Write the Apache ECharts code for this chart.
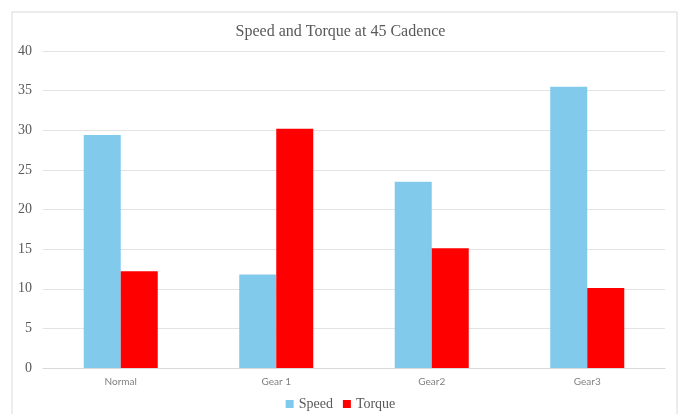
<!DOCTYPE html>
<html>
<head>
<meta charset="utf-8">
<script src="https://cdn.jsdelivr.net/npm/echarts@6/dist/echarts.min.js"></script>
<style>
  html, body { margin: 0; padding: 0; background: #fff; }
  #chart { width: 681px; height: 414px; }
</style>
</head>
<body>
<div id="chart"></div>
<script>
// 图表数据
const categories = ['Normal', 'Gear 1', 'Gear2', 'Gear3']
const speedData = [29.4, 11.8, 23.5, 35.5]
const torqueData = [12.2, 30.2, 15.1, 10.1]
const yTicks = [0, 5, 10, 15, 20, 25, 30, 35, 40]

const chart = echarts.init(document.getElementById('chart'))
const serif = '"Liberation Serif", "DejaVu Serif", serif'

const option = {
  backgroundColor: '#fff',
  animation: false,
  // 外边框
  graphic: [{
    type: 'rect',
    shape: { x: 12, y: 12, width: 665, height: 410 },
    style: { fill: 'none', stroke: '#d9d9d9', lineWidth: 1 },
    silent: true
  }],
  title: {
    text: 'Speed and Torque at 45 Cadence',
    left: 'center',
    top: 19,
    textStyle: { fontFamily: serif, fontSize: 16, fontWeight: 'normal', color: '#595959' }
  },
  legend: {
    top: 392,
    left: 'center',
    icon: 'rect',
    itemWidth: 8,
    itemHeight: 8,
    itemGap: 10,
    textStyle: { fontFamily: serif, fontSize: 14, color: '#595959' },
    data: ['Speed', 'Torque']
  },
  grid: { left: 43, right: 16, top: 51, bottom: 46 },
  xAxis: {
    type: 'category',
    data: categories,
    axisTick: { show: false },
    axisLine: { lineStyle: { color: '#d9d9d9' } },
    axisLabel: { fontFamily: '"Lato", "Noto Sans", sans-serif', fontSize: 10, color: '#808080', margin: 9 }
  },
  yAxis: {
    type: 'value',
    min: yTicks[0],
    max: yTicks[yTicks.length - 1],
    interval: 5,
    axisLine: { show: false },
    axisTick: { show: false },
    splitLine: { lineStyle: { color: '#e3e3e3' } },
    axisLabel: { fontFamily: serif, fontSize: 14, color: '#595959', margin: 11 }
  },
  series: [
    {
      name: 'Speed',
      type: 'bar',
      data: speedData,
      barWidth: '23.8%',
      barGap: '0%',
      itemStyle: { color: '#82caeb' }
    },
    {
      name: 'Torque',
      type: 'bar',
      data: torqueData,
      barWidth: '23.8%',
      itemStyle: { color: '#ff0000' }
    }
  ]
}
chart.setOption(option)
</script>
</body>
</html>
